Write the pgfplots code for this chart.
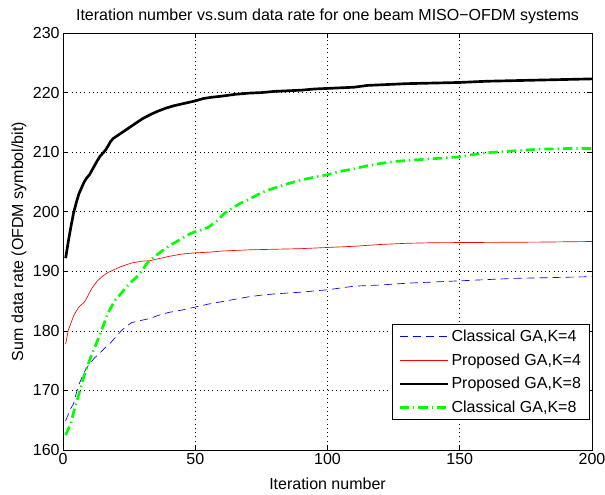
\documentclass[border=0pt]{standalone}
\usepackage{pgfplots}
\pgfplotsset{compat=1.18}
\usepackage{fontspec}
\setmainfont{Liberation Sans}
\begin{document}
\begin{tikzpicture}
\path[use as bounding box] (-47.25pt,-33pt) rectangle (406.5pt,337.5pt);
\begin{axis}[
  at={(0pt,0pt)}, anchor=south west,
  scale only axis,
  width=396.75pt, height=312.75pt,
  xmin=0, xmax=200, ymin=160, ymax=230,
  xtick={0,50,100,150,200},
  ytick={160,170,180,190,200,210,220,230},
  /pgf/number format/assume math mode=true,
  tick label style={font=\fontsize{12pt}{14pt}\selectfont},
  label style={font=\fontsize{12pt}{14pt}\selectfont},
  title style={font=\fontsize{12pt}{14pt}\selectfont, yshift=-3pt},
  title={Iteration number vs.sum data rate for one beam MISO−OFDM systems},
  xlabel={Iteration number},
  ylabel={Sum data rate (OFDM symbol/bit)},
  xlabel style={yshift=-3pt},
  ylabel style={yshift=-2pt},
  xticklabel style={yshift=1pt},
  yticklabel style={xshift=1pt},
  grid=major,
  major grid style={black, line width=0.4pt, dash pattern=on 0.6pt off 2.6pt},
  major tick length=3.75pt,
  tick style={black, line width=0.5pt},
  axis line style={black, line width=0.6pt},
  legend cell align=left,
  legend style={at={(rel axis cs:0.995,0.072)}, anchor=south east,
    font=\fontsize{12pt}{14pt}\selectfont, draw=black, line width=0.6pt,
    row sep=3.5pt, inner xsep=4pt, inner ysep=2pt},
  legend image code/.code={\draw[#1] (0pt,0pt) -- (36pt,0pt);},
]
\addplot[blue, line width=0.5pt, dash pattern=on 6pt off 3.75pt] coordinates {
(1,164.9)(2,166)(3,167)(4,167.8)(5,169.5)(6,171)(7,172)(8,173)(9,173.8)(10,174.4)
(12,175.5)(14,176.3)(16,177.2)(18,178)(20,179)(22,180)(24,180.8)(26,181.4)(30,181.8)
(33,182.1)(36,182.6)(40,183.1)(45,183.5)(50,184)(55,184.5)(60,184.9)(65,185.3)(70,185.7)
(75,186)(80,186.2)(90,186.5)(100,186.9)(105,187.2)(110,187.5)(120,187.7)(130,188)
(140,188.2)(150,188.4)(160,188.6)(170,188.8)(180,188.9)(190,189)(200,189.1)};
\addlegendentry{Classical GA,K=4}
\addplot[red, line width=0.5pt] coordinates {
(1,177.8)(2,180.1)(3,181.3)(4,182.5)(5,183.3)(6,184)(7,184.4)(8,184.8)(9,185.5)(10,186.4)
(11,187.2)(12,187.8)(13,188.4)(14,188.8)(15,189.2)(16,189.5)(17,189.8)(18,190)(20,190.4)
(22,190.8)(24,191.1)(26,191.4)(30,191.7)(33,191.8)(36,192.1)(40,192.5)(45,192.9)(50,193.1)
(55,193.2)(60,193.4)(70,193.6)(80,193.7)(90,193.8)(100,194.0)(110,194.2)(120,194.5)
(130,194.7)(140,194.8)(160,194.85)(180,194.9)(200,195.0)};
\addlegendentry{Proposed GA,K=4}
\addplot[black, line width=2pt] coordinates {
(1,192.2)(2,195)(3,197.5)(4,199.8)(5,201.5)(6,203)(7,204)(8,205)(9,205.7)(10,206.2)
(11,207)(12,207.8)(13,208.6)(14,209.3)(15,209.8)(16,210.3)(17,211)(18,211.8)(19,212.3)
(20,212.6)(22,213.2)(24,213.8)(26,214.4)(28,215)(30,215.6)(33,216.3)(36,216.9)(39,217.4)
(42,217.8)(45,218.1)(48,218.4)(50,218.6)(53,219)(56,219.2)(60,219.4)(65,219.7)(70,219.9)
(75,220.0)(80,220.2)(90,220.4)(95,220.6)(100,220.7)(105,220.8)(110,220.9)(115,221.2)
(120,221.3)(130,221.5)(140,221.6)(150,221.7)(155,221.8)(160,221.9)(170,222.0)(180,222.1)
(190,222.2)(200,222.3)};
\addlegendentry{Proposed GA,K=8}
\addplot[green, line width=2pt, dash pattern=on 7pt off 3pt on 1pt off 3pt] coordinates {
(1,162.5)(2,163.5)(3,164.5)(4,166.3)(5,167.8)(6,169.4)(7,171)(8,172.5)(9,173.8)(10,175)
(11,176.2)(12,177.2)(13,178.3)(14,179.4)(15,180.6)(16,181.8)(17,183)(18,183.8)(19,184.6)
(20,185.3)(22,186.3)(24,187.4)(26,188.3)(28,189.1)(30,190.2)(32,191.5)(35,192.6)(38,193.6)
(40,194.2)(43,195)(46,195.8)(49,196.5)(52,196.9)(55,197.4)(58,198.4)(61,199.7)(64,200.6)
(67,201.4)(70,202.0)(75,203.2)(80,204.0)(85,204.7)(90,205.3)(95,205.8)(100,206.2)
(105,206.8)(110,207.2)(115,207.7)(120,208.1)(125,208.4)(130,208.6)(140,208.9)(150,209.2)
(155,209.6)(160,209.9)(170,210.2)(180,210.5)(190,210.6)(200,210.6)};
\addlegendentry{Classical GA,K=8}
\end{axis}
\end{tikzpicture}
\end{document}
